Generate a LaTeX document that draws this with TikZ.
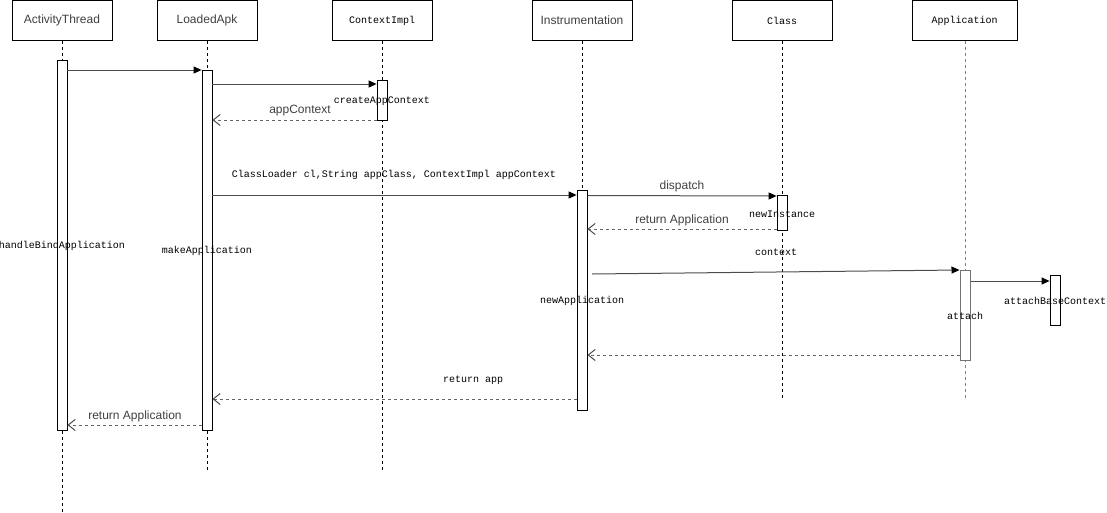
\documentclass[tikz,border=0pt]{standalone}
\usepackage{fontspec}
\setmainfont{Liberation Sans}
\newfontfamily\monof{Liberation Mono}
\usetikzlibrary{arrows.meta}
\tikzset{
  head/.style={draw=black, fill=white, minimum width=100pt, minimum height=40pt, inner sep=0pt, line width=0.8pt},
  sanslbl/.style={font=\fontsize{12}{14}\selectfont, text=black!75, inner sep=0pt},
  monolbl/.style={font=\monof\fontsize{10}{12}\selectfont, text=black, inner sep=0pt},
  life/.style={draw=black, line width=0.8pt, dash pattern=on 3pt off 3pt},
  bar/.style={draw=black, fill=white, minimum width=10pt, inner sep=0pt, line width=0.8pt},
  msg/.style={draw=black!70, line width=1pt, -{Triangle[length=8pt,width=7pt,color=black]}},
  ret/.style={draw=black!60, line width=1pt, dash pattern=on 3pt off 3pt, -{Straight Barb[length=7pt,width=11pt,color=black!70]}},
}
\begin{document}
\begin{tikzpicture}[x=1pt,y=-1pt]
\useasboundingbox (0,0) rectangle (1107,512);
% headers
\node[head, sanslbl] (at) at (62,20.5) {ActivityThread};
\node[head, sanslbl] (la) at (207,20.5) {LoadedApk};
\node[head, monolbl] (ci) at (382,20.5) {ContextImpl};
\node[head, sanslbl] (in) at (582,20.5) {Instrumentation};
\node[head, monolbl] (cl) at (782,20.5) {Class};
\node[head, monolbl, minimum width=105pt] (ap) at (964.5,20.5) {Application};
% lifelines
\coordinate (atend) at (62,512);
\coordinate (laend) at (207,470);
\coordinate (ciend) at (382,470);
\coordinate (inend) at (582,410);
\coordinate (clend) at (782,398);
\coordinate (apend) at (965,398);
\draw[life] (at.south) -- (atend);
\draw[life] (la.south) -- (laend);
\draw[life] (ci.south) -- (ciend);
\draw[life] (in.south) -- (inend);
\draw[life] (cl.south) -- (clend);
\draw[life, draw=black!50, line width=1pt] (ap.south -| apend) -- (apend);
% activation bars
\node[bar, minimum height=370pt] (atb) at (62,245) {};
\node[bar, minimum height=360pt] (lab) at (207,250) {};
\node[bar, minimum height=40pt] (cib) at (382,100) {};
\node[bar, minimum height=220pt] (inb) at (582,300) {};
\node[bar, minimum height=35pt] (clb) at (782,212.5) {};
\node[bar, draw=black!55, line width=1pt, minimum height=90pt] (apb) at (965,315) {};
\node[bar, minimum height=50pt] (abb) at (1055,300) {};
% bar labels
\node[monolbl] at (62,246) {handleBindApplication};
\node[monolbl] at (207,251) {makeApplication};
\node[monolbl] at (382,101) {createAppContext};
\node[monolbl] at (582,301) {newApplication};
\node[monolbl] at (782,214) {newInstance};
\node[monolbl] at (965,316) {attach};
\node[monolbl] at (1055,301) {attachBaseContext};
% messages
\draw[msg] (atb.east |- 0,70) -- (lab.west |- 0,70);
\draw[msg] (lab.east |- 0,84) -- (cib.west |- 0,84);
\draw[ret] (cib.west |- 0,120) -- (lab.east |- 0,120);
\node[sanslbl] at (300,111) {appContext};
\draw[msg] (lab.east |- 0,195) -- (inb.west |- 0,195);
\node[monolbl] at (394,175) {ClassLoader cl,String appClass, ContextImpl appContext};
\draw[msg] (inb.east |- 0,195.5) -- (clb.west |- 0,196);
\node[sanslbl] at (682,186) {dispatch};
\draw[ret] (clb.west |- 0,229) -- (inb.east |- 0,229);
\node[sanslbl] at (682,220) {return Application};
\coordinate (ctxstart) at (592,274);
\draw[msg] (ctxstart) -- (apb.west |- 0,270);
\node[monolbl] at (776,252) {context};
\draw[msg] (apb.east |- 0,281) -- (abb.west |- 0,281);
\draw[ret] (apb.west |- 0,355) -- (inb.east |- 0,355);
\draw[ret] (inb.west |- 0,399) -- (lab.east |- 0,399);
\node[monolbl] at (473,380) {return app};
\draw[ret] (lab.west |- 0,425) -- (atb.east |- 0,425);
\node[sanslbl] at (135,416) {return Application};
\end{tikzpicture}
\end{document}
